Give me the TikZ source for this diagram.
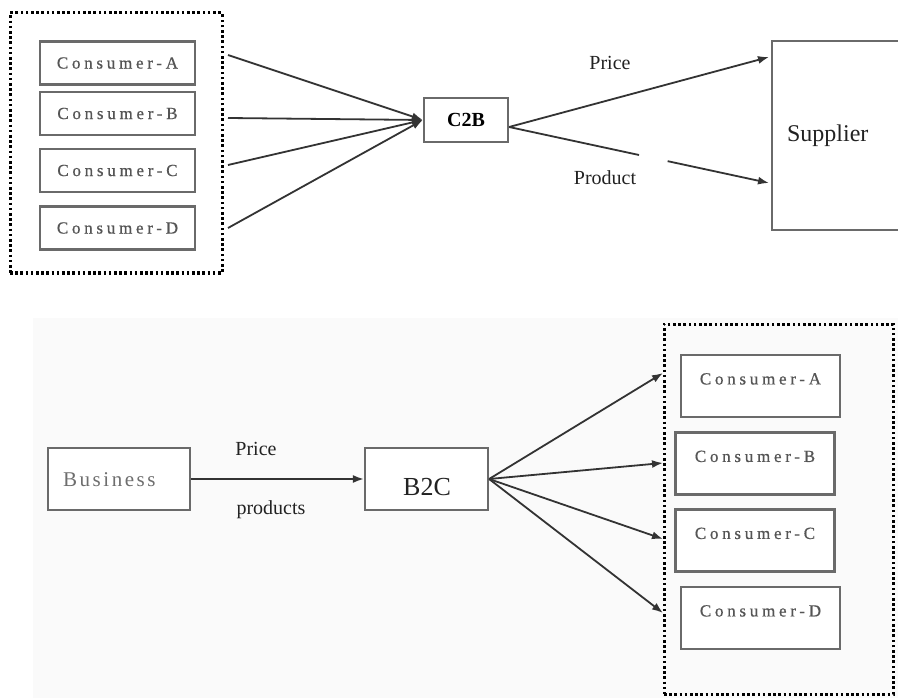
\documentclass[tikz,border=0pt]{standalone}
\usepackage{fontspec}
\setmainfont{Liberation Serif}
\newfontfamily\spacedserif[LetterSpace=22,FakeBold=0.6]{Liberation Serif}
\newfontfamily\bizfont[LetterSpace=12]{Liberation Serif}
\usetikzlibrary{arrows.meta,calc}
\definecolor{boxgray}{HTML}{6A6A6A}
\definecolor{txtgray}{HTML}{555555}
\definecolor{ink}{HTML}{222222}
\definecolor{linegray}{HTML}{333333}

\begin{document}
\begin{tikzpicture}[x=1pt,y=-1pt,
  box/.style={draw=boxgray,line width=2.2pt,inner sep=0pt,fill=white},
  ctext/.style={font=\spacedserif\fontsize{17}{19}\selectfont,text=txtgray},
  consumer/.style={box,ctext,minimum width=155pt,minimum height=43pt},
  consumerlow/.style={box,minimum width=159pt,minimum height=62pt},
  dotframe/.style={draw=black,line width=3pt,dash pattern=on 2.6pt off 2.6pt,
    inner sep=0pt},
  label/.style={font=\fontsize{20}{22}\selectfont,text=ink,inner sep=0pt},
  flow/.style={draw=linegray,line width=1.8pt,
    -{Latex[length=11pt,width=8pt]}},
  plain/.style={draw=linegray,line width=1.8pt}
]
\useasboundingbox (0,0) rectangle (898,698);
\fill[white] (0,0) rectangle (898,698);
% faint backdrop behind the lower diagram
\fill[black!2] (33,318) rectangle (898,698);

% ---------- upper diagram: C2B ----------
\node[dotframe,minimum width=212pt,minimum height=260pt] (tframe) at (116,143) {};
\node[consumer] (ta) at (117.5,63) {Consumer-A};
\node[consumer] (tb) at (117.5,113.5) {Consumer-B};
\node[consumer] (tc) at (117.5,170.5) {Consumer-C};
\node[consumer] (td) at (117.5,228) {Consumer-D};

\node[box,minimum width=84pt,minimum height=44pt,
  font=\bfseries\fontsize{20}{22}\selectfont,text=black] (c2b) at (466,120) {C2B};

\node[box,minimum width=140pt,minimum height=189pt,anchor=north west,
  font=\fontsize{24}{26}\selectfont,text=ink,text width=120pt,align=left]
  (sup) at (771,40) {\hspace*{5pt}Supplier};

\coordinate (sa) at (228,55);
\coordinate (sb) at (228,118);
\coordinate (sc) at (228,165);
\coordinate (sd) at (228,228);
\foreach \s in {sa,sb,sc,sd} \draw[flow] (\s) -- (c2b.west);

\coordinate (c2bout) at ($(c2b.east)+(0,7)$);
\coordinate (supprice) at (769,57);
\coordinate (supprod) at (769,183);
\draw[flow] (c2bout) -- (supprice);
\draw[plain] (c2bout) -- ($(c2bout)!0.5!(supprod)$);
\draw[flow] ($(c2bout)!0.61!(supprod)$) -- (supprod);

\node[label] (lprice) at (610,63) {Price};
\node[label] (lprod) at (605,178) {Product};

% ---------- lower diagram: B2C ----------
\node[box,minimum width=142pt,minimum height=62pt] (biz) at (119,479) {};
\node[font=\bizfont\fontsize{21}{23}\selectfont,text=txtgray!85,anchor=west,inner sep=0pt]
  (biztext) at (63,480) {Business};

\node[box,minimum width=123pt,minimum height=62pt] (b2c) at (426.5,479) {};
\node[font=\fontsize{26}{28}\selectfont,text=ink,inner sep=0pt] (b2ctext) at (427,487) {B2C};

\draw[flow] (biz.east) -- (b2c.west);
\node[label] (bprice) at (256,449) {Price};
\node[label] (bprod) at (271,510) {products};

\node[dotframe,minimum width=229pt,minimum height=370pt] (bframe) at (778.5,509) {};
\node[consumerlow] (ba) at (760.5,386) {};
\node[consumerlow] (bb) at (755,463.5) {};
\node[consumerlow] (bc) at (755,540.5) {};
\node[consumerlow] (bd) at (760.5,618) {};
\node[ctext,inner sep=0pt] (bat) at ($(ba.north)+(0,25)$) {Consumer-A};
\node[ctext,inner sep=0pt] (bbt) at ($(bb.north)+(0,25)$) {Consumer-B};
\node[ctext,inner sep=0pt] (bct) at ($(bc.north)+(0,25)$) {Consumer-C};
\node[ctext,inner sep=0pt] (bdt) at ($(bd.north)+(0,25)$) {Consumer-D};

\coordinate (ea) at (663,373);
\coordinate (eb) at (663,463);
\coordinate (ec) at (663,539);
\coordinate (ed) at (663,613);
\coordinate (b2cout) at (b2c.east);
\foreach \e in {ea,eb,ec,ed} \draw[flow] (b2cout) -- (\e);
\end{tikzpicture}
\end{document}
